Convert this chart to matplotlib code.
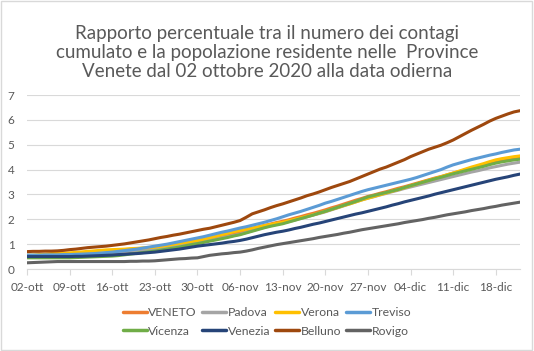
import matplotlib
matplotlib.use('Agg')
import matplotlib.pyplot as plt
from matplotlib.patches import Rectangle

plt.rcParams['font.family'] = ['Lato', 'DejaVu Sans']

# days from 02-ott-2020 to 22-dic-2020
days = list(range(82))
tick_days = [0, 7, 14, 21, 28, 35, 42, 49, 56, 63, 70, 77]
tick_labels = ['02-ott', '09-ott', '16-ott', '23-ott', '30-ott', '06-nov',
               '13-nov', '20-nov', '27-nov', '04-dic', '11-dic', '18-dic']

veneto = [0.52, 0.52, 0.53, 0.53, 0.54, 0.54, 0.55, 0.56,
          0.57, 0.58, 0.59, 0.61, 0.62, 0.64, 0.66,
          0.68, 0.70, 0.73, 0.75, 0.78, 0.80, 0.83,
          0.87, 0.90, 0.94, 0.98, 1.02, 1.06, 1.10,
          1.15, 1.20, 1.26, 1.31, 1.37, 1.42, 1.48,
          1.55, 1.62, 1.68, 1.75, 1.81, 1.87, 1.92,
          1.98, 2.05, 2.11, 2.18, 2.24, 2.31, 2.38,
          2.46, 2.53, 2.61, 2.69, 2.77, 2.84, 2.92,
          2.98, 3.05, 3.11, 3.18, 3.25, 3.31, 3.38,
          3.45, 3.52, 3.59, 3.66, 3.72, 3.79, 3.86,
          3.92, 3.99, 4.05, 4.11, 4.18, 4.24, 4.30,
          4.35, 4.39, 4.43, 4.47]
padova = [0.55, 0.55, 0.56, 0.56, 0.57, 0.57, 0.57, 0.58,
          0.59, 0.60, 0.61, 0.62, 0.63, 0.64, 0.65,
          0.67, 0.69, 0.71, 0.73, 0.75, 0.78, 0.80,
          0.83, 0.86, 0.90, 0.94, 0.97, 1.01, 1.05,
          1.10, 1.15, 1.20, 1.25, 1.30, 1.35, 1.40,
          1.47, 1.54, 1.61, 1.68, 1.74, 1.80, 1.85,
          1.91, 1.97, 2.04, 2.10, 2.17, 2.23, 2.30,
          2.38, 2.46, 2.54, 2.62, 2.70, 2.78, 2.85,
          2.91, 2.98, 3.04, 3.11, 3.17, 3.24, 3.30,
          3.36, 3.42, 3.48, 3.54, 3.60, 3.66, 3.72,
          3.78, 3.84, 3.90, 3.95, 4.01, 4.07, 4.12,
          4.17, 4.22, 4.26, 4.30]
verona = [0.55, 0.56, 0.58, 0.60, 0.62, 0.63, 0.64, 0.65,
          0.67, 0.69, 0.71, 0.73, 0.75, 0.77, 0.78,
          0.79, 0.80, 0.82, 0.83, 0.85, 0.86, 0.88,
          0.91, 0.95, 0.99, 1.03, 1.07, 1.11, 1.15,
          1.20, 1.26, 1.32, 1.38, 1.44, 1.50, 1.55,
          1.60, 1.65, 1.70, 1.75, 1.79, 1.84, 1.88,
          1.94, 2.00, 2.06, 2.12, 2.18, 2.25, 2.32,
          2.40, 2.47, 2.55, 2.62, 2.70, 2.78, 2.85,
          2.92, 2.99, 3.06, 3.13, 3.20, 3.27, 3.35,
          3.42, 3.50, 3.57, 3.64, 3.71, 3.79, 3.86,
          3.94, 4.02, 4.10, 4.17, 4.24, 4.32, 4.39,
          4.44, 4.48, 4.52, 4.55]
treviso = [0.56, 0.56, 0.56, 0.57, 0.57, 0.57, 0.58, 0.58,
           0.59, 0.60, 0.61, 0.62, 0.64, 0.66, 0.68,
           0.71, 0.74, 0.77, 0.80, 0.84, 0.88, 0.92,
           0.96, 1.00, 1.05, 1.10, 1.15, 1.20, 1.25,
           1.30, 1.36, 1.42, 1.48, 1.53, 1.59, 1.65,
           1.70, 1.76, 1.82, 1.88, 1.95, 2.02, 2.10,
           2.18, 2.25, 2.32, 2.40, 2.48, 2.56, 2.65,
           2.72, 2.80, 2.88, 2.96, 3.04, 3.12, 3.19,
           3.25, 3.31, 3.37, 3.43, 3.49, 3.55, 3.61,
           3.68, 3.76, 3.84, 3.92, 4.00, 4.10, 4.19,
           4.26, 4.33, 4.40, 4.46, 4.52, 4.58, 4.63,
           4.69, 4.74, 4.79, 4.82]
vicenza = [0.45, 0.45, 0.45, 0.45, 0.45, 0.45, 0.45, 0.45,
           0.46, 0.47, 0.48, 0.49, 0.50, 0.51, 0.52,
           0.54, 0.57, 0.60, 0.63, 0.66, 0.69, 0.72,
           0.76, 0.80, 0.84, 0.88, 0.93, 0.98, 1.02,
           1.07, 1.12, 1.17, 1.22, 1.27, 1.33, 1.38,
           1.45, 1.52, 1.59, 1.66, 1.72, 1.77, 1.82,
           1.89, 1.96, 2.03, 2.10, 2.17, 2.25, 2.32,
           2.40, 2.48, 2.56, 2.64, 2.72, 2.81, 2.90,
           2.96, 3.02, 3.08, 3.14, 3.20, 3.28, 3.35,
           3.42, 3.49, 3.56, 3.63, 3.69, 3.76, 3.83,
           3.89, 3.95, 4.01, 4.07, 4.13, 4.20, 4.26,
           4.31, 4.35, 4.39, 4.42]
venezia = [0.50, 0.50, 0.50, 0.50, 0.50, 0.50, 0.50, 0.50,
           0.51, 0.51, 0.52, 0.53, 0.54, 0.55, 0.56,
           0.58, 0.59, 0.61, 0.62, 0.64, 0.66, 0.68,
           0.71, 0.74, 0.77, 0.80, 0.84, 0.88, 0.92,
           0.95, 0.98, 1.01, 1.04, 1.08, 1.11, 1.15,
           1.20, 1.26, 1.32, 1.38, 1.43, 1.48, 1.52,
           1.57, 1.63, 1.68, 1.74, 1.80, 1.85, 1.91,
           1.97, 2.03, 2.09, 2.15, 2.21, 2.26, 2.32,
           2.38, 2.44, 2.50, 2.57, 2.63, 2.70, 2.76,
           2.82, 2.88, 2.94, 3.01, 3.07, 3.13, 3.19,
           3.25, 3.31, 3.37, 3.43, 3.49, 3.55, 3.61,
           3.66, 3.71, 3.77, 3.82]
belluno = [0.70, 0.71, 0.71, 0.72, 0.72, 0.73, 0.75, 0.78,
           0.80, 0.83, 0.86, 0.88, 0.90, 0.92, 0.95,
           0.98, 1.01, 1.05, 1.09, 1.13, 1.17, 1.22,
           1.27, 1.31, 1.36, 1.40, 1.45, 1.50, 1.55,
           1.60, 1.64, 1.70, 1.76, 1.82, 1.88, 1.95,
           2.08, 2.22, 2.30, 2.38, 2.47, 2.55, 2.62,
           2.70, 2.78, 2.86, 2.95, 3.02, 3.10, 3.19,
           3.28, 3.36, 3.44, 3.52, 3.62, 3.72, 3.82,
           3.92, 4.02, 4.10, 4.20, 4.30, 4.40, 4.52,
           4.62, 4.72, 4.82, 4.90, 4.98, 5.08, 5.19,
           5.32, 5.45, 5.58, 5.70, 5.82, 5.95, 6.06,
           6.15, 6.24, 6.32, 6.37]
rovigo = [0.25, 0.26, 0.27, 0.28, 0.29, 0.30, 0.30, 0.30,
          0.30, 0.30, 0.30, 0.30, 0.30, 0.30, 0.30,
          0.30, 0.30, 0.31, 0.31, 0.32, 0.32, 0.33,
          0.35, 0.37, 0.39, 0.41, 0.42, 0.44, 0.45,
          0.50, 0.55, 0.58, 0.61, 0.63, 0.66, 0.68,
          0.72, 0.77, 0.83, 0.88, 0.93, 0.98, 1.02,
          1.06, 1.10, 1.14, 1.18, 1.22, 1.27, 1.31,
          1.35, 1.39, 1.44, 1.48, 1.53, 1.58, 1.62,
          1.66, 1.70, 1.74, 1.78, 1.82, 1.87, 1.91,
          1.95, 1.99, 2.04, 2.08, 2.13, 2.18, 2.22,
          2.26, 2.30, 2.35, 2.39, 2.43, 2.48, 2.52,
          2.57, 2.61, 2.65, 2.69]

names = ['VENETO', 'Padova', 'Verona', 'Treviso',
         'Vicenza', 'Venezia', 'Belluno', 'Rovigo']
series = [veneto, padova, verona, treviso, vicenza, venezia, belluno, rovigo]
colors = ['#ED7D31', '#A5A5A5', '#FFC000', '#5B9BD5',
          '#70AD47', '#264478', '#9E480E', '#636363']

txt = '#595959'
fig = plt.figure(figsize=(5.34, 3.51), dpi=100)
ax = fig.add_axes([0.0506, 0.2336, 0.9234, 0.4957])

lines = []
for name, vals, c in zip(names, series, colors):
    ln, = ax.plot(days, vals, color=c, lw=2.2, label=name, solid_capstyle='round')
    lines.append(ln)

ax.set_xlim(0, 81)
ax.set_ylim(0, 7)
ax.set_yticks(range(0, 8))
ax.set_xticks(tick_days)
ax.set_xticklabels(tick_labels)
ax.grid(axis='y', color='#D9D9D9', lw=0.8)
ax.set_axisbelow(True)
for s in ['top', 'right', 'left']:
    ax.spines[s].set_visible(False)
ax.spines['bottom'].set_color('#D9D9D9')
ax.tick_params(axis='y', length=0, pad=9, labelsize=8.5, labelcolor=txt)
ax.tick_params(axis='x', length=4, color='#D9D9D9', pad=5, labelsize=8.5, labelcolor=txt)

fig.text(0.5, 0.93, 'Rapporto percentuale tra il numero dei contagi\n'
         'cumulato e la popolazione residente nelle  Province\n'
         'Venete dal 02 ottobre 2020 alla data odierna',
         ha='center', va='top', fontsize=13.5, color=txt, linespacing=1.15)

# legend filled row by row, like Excel
order = [0, 4, 1, 5, 2, 6, 3, 7]
leg = fig.legend([lines[i] for i in order], [names[i] for i in order],
                 loc='center', bbox_to_anchor=(0.5, 0.083), ncol=4, frameon=False,
                 fontsize=8.8, handlelength=2.0, handletextpad=0.1, columnspacing=0.4,
                 labelspacing=0.6)
for t in leg.get_texts():
    t.set_color(txt)
for h in leg.get_lines():
    h.set_linewidth(2.5)

fig.patches.append(Rectangle((0.002, 0.003), 0.995, 0.993, transform=fig.transFigure,
                             fill=False, edgecolor='#D9D9D9', lw=1))

fig.savefig('out.png', dpi=100)
